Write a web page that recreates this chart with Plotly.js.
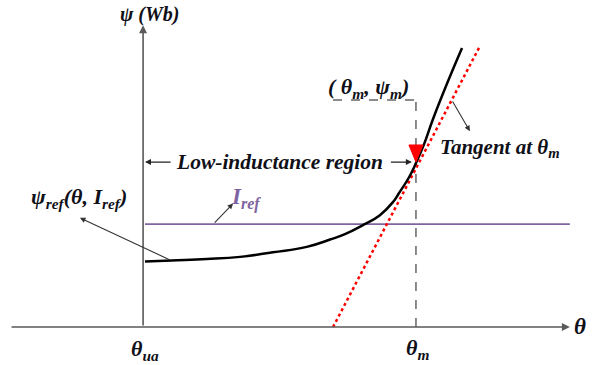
<!DOCTYPE html>
<html>
<head>
<meta charset="utf-8">
<script src="https://cdn.plot.ly/plotly-3.0.1.min.js"></script>
<style>
  html, body { margin: 0; padding: 0; background: #fff; }
  #chart { width: 594px; height: 365px; }
</style>
</head>
<body>
<div id="chart"></div>
<script>
// Flux-linkage curve psi_ref(theta, I_ref) (arbitrary units)
const theta = [0, 0.985, 2.28, 3.51, 4.72, 5.97, 6.83, 7.38, 8.04, 8.67, 9.15, 9.37, 9.74, 10, 10.30, 10.63, 11.14, 11.70];
const psi   = [2.42, 2.46, 2.51, 2.59, 2.76, 2.96, 3.23, 3.43, 3.76, 4.13, 4.61, 4.94, 5.52, 6.05, 6.75, 7.68, 8.97, 10.30];

// Tangent line at theta_m
const tangentTheta = [6.94, 12.36];
const tangentPsi   = [0, 10.37];

// Reference current level
const irefTheta = [0, 15.68];
const irefPsi   = [3.80, 3.80];

// Key angles / operating point
const thetaUa = 0;
const thetaM = 10;
const psiM = 6.05;

// Axis extents
const xAxisStart = -4.98, xAxisEnd = 15.68;
const yAxisEnd = 11.14;

// Label anchor level for the (theta_m, psi_m) bracket
const bracketPsi = 8.38, bracketTheta = 6.94;
// Level of the low-inductance span arrows
const spanPsi = 6.09;

const axisColor = '#5a5a5a';
const textColor = '#101018';
const purple = '#8064A2';
const serif = 'Liberation Serif, Times New Roman, serif';

const traces = [
  { x: irefTheta, y: irefPsi, mode: 'lines', line: { color: purple, width: 1.8 }, hoverinfo: 'skip' },
  { x: [thetaM, thetaM], y: [0, bracketPsi], mode: 'lines', line: { color: '#666', width: 1.5, dash: 'dash' }, hoverinfo: 'skip' },
  { x: [bracketTheta, thetaM], y: [bracketPsi, bracketPsi], mode: 'lines', line: { color: '#666', width: 1.5, dash: 'dash' }, hoverinfo: 'skip' },
  { x: tangentTheta, y: tangentPsi, mode: 'lines', line: { color: '#ff0000', width: 2.5, dash: 'dot' }, hoverinfo: 'skip' },
  { x: theta, y: psi, mode: 'lines', line: { color: '#000', width: 2.5, shape: 'spline', smoothing: 1.3 }, hoverinfo: 'skip' },
  // red marker triangle pointing at (theta_m, psi_m)
  { x: [thetaM - 0.26, thetaM + 0.26, thetaM, thetaM - 0.26], y: [psiM + 0.67, psiM + 0.67, psiM + 0.04, psiM + 0.67],
    mode: 'lines', fill: 'toself', fillcolor: '#ff0000', line: { color: '#ff0000', width: 1 }, hoverinfo: 'skip' }
];

function arrow(x, y, ax, ay, color, width, head, size) {
  return { x: x, y: y, ax: ax, ay: ay, xref: 'x', yref: 'y', axref: 'x', ayref: 'y',
           text: '', showarrow: true, arrowcolor: color, arrowwidth: width,
           arrowhead: head, arrowsize: size };
}
function label(x, y, text, size, color, xanchor) {
  return { x: x, y: y, xref: 'x', yref: 'y', text: text, showarrow: false,
           xanchor: xanchor || 'center', yanchor: 'middle',
           font: { family: serif, size: size, color: color || textColor } };
}

const annotations = [
  // axes
  arrow(xAxisEnd, 0, xAxisStart, 0, axisColor, 1.6, 2, 1),
  arrow(thetaUa - 0.07, yAxisEnd, thetaUa - 0.07, 0, axisColor, 1.6, 2, 1),
  // low-inductance span arrows
  arrow(thetaUa, spanPsi, 1.0, spanPsi, '#222', 1.2, 2, 1),
  arrow(thetaM - 0.15, spanPsi, 9.02, spanPsi, '#222', 1.2, 2, 1),
  // pointer arrows
  arrow(11.99, 7.23, 11.32, 8.38, '#333', 1.1, 2, 1),
  arrow(-2.40, 4.03, 0.96, 2.46, '#333', 1.1, 2, 1),
  arrow(3.25, 4.56, 2.52, 3.80, '#333', 1.1, 2, 1),
  // text
  label(0.18, 11.53, '<b><i>ψ (Wb)</i></b>', 20),
  label(16.05, 0.03, '<b><i>θ</i></b>', 23),
  label(thetaUa, -0.85, '<b><i>θ<sub>ua</sub></i></b>', 22),
  label(thetaM + 0.05, -0.82, '<b><i>θ<sub>m</sub></i></b>', 22),
  label(8.23, 8.82, '<b><i>( θ<sub>m</sub>, ψ<sub>m</sub>)</i></b>', 22),
  label(10.81, 6.61, '<b><i>Tangent at θ<sub>m</sub></i></b>', 21, textColor, 'left'),
  label(4.95, spanPsi, '<b><i>Low-inductance region</i></b>', 21.5),
  label(-2.45, 4.76, '<b><i>ψ<sub>ref</sub>(θ, I<sub>ref</sub>)</i></b>', 22),
  label(3.73, 4.76, '<b><i>I<sub>ref</sub></i></b>', 23, purple)
];

const layout = {
  width: 594, height: 365,
  margin: { l: 0, r: 0, t: 0, b: 0 },
  paper_bgcolor: '#fff', plot_bgcolor: '#fff',
  showlegend: false,
  xaxis: { range: [-5.35, 16.57], visible: false, fixedrange: true },
  yaxis: { range: [-1.40, 12.07], visible: false, fixedrange: true },
  annotations: annotations
};

Plotly.newPlot('chart', traces, layout, { staticPlot: true, displayModeBar: false });
</script>
</body>
</html>
